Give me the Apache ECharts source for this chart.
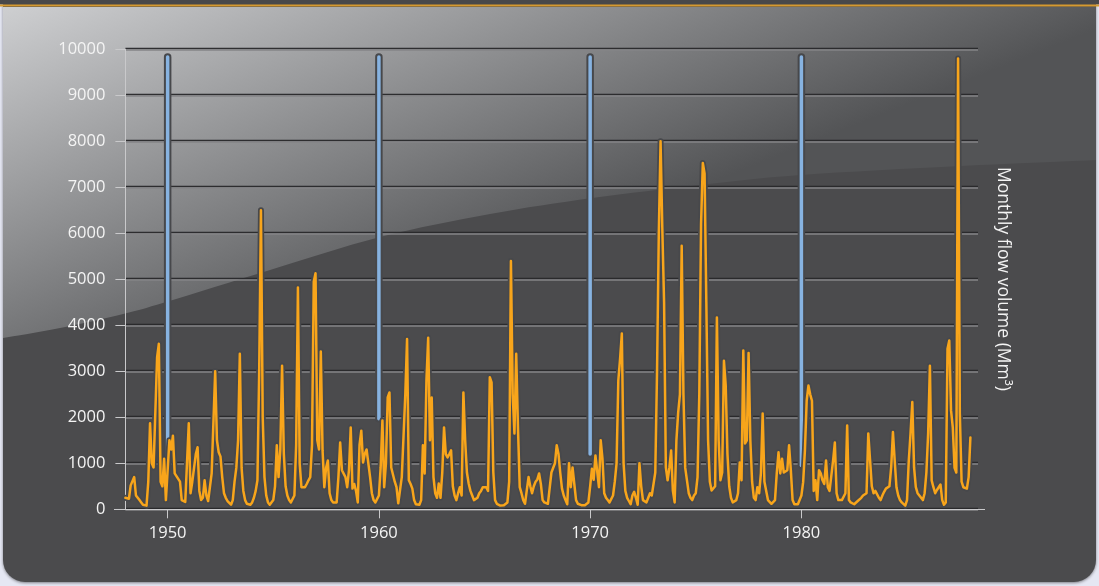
<!DOCTYPE html>
<html><head><meta charset="utf-8">
<script src="https://cdn.jsdelivr.net/npm/echarts@6/dist/echarts.min.js"></script>
<style>html,body{margin:0;padding:0;background:#e5e7f3;overflow:hidden}#c{width:1099px;height:586px}</style>
</head><body><div id="c"></div>
<script>
// ---- data ----
const startYear = 1948;            // first monthly value = Jan 1948
const flow1948_1949 = [
  250, 280, 230, 520, 560, 700, 300, 250, 200, 150, 100, 80,
  80, 600, 1870, 1000, 910, 880, 3300, 3600, 600, 500, 1100, 200];
const flow1950s = [
  200, 1500, 1300, 1600, 780, 720, 680, 600, 200, 180, 160, 150,
  1870, 350, 600, 900, 1200, 1350, 400, 200, 250, 630, 300, 180,
  150, 780, 780, 3000, 1500, 1240, 1150, 700, 350, 250, 180, 150,
  100, 200, 600, 900, 1500, 3380, 900, 400, 200, 120, 90, 100,
  150, 250, 400, 630, 3000, 6500, 2000, 700, 300, 150, 100, 90,
  200, 500, 1390, 700, 1300, 3120, 1200, 500, 300, 200, 150, 120,
  300, 1400, 4820, 1000, 480, 500, 480, 550, 630, 700, 1400, 4950,
  5130, 1500, 1300, 3430, 1280, 480, 900, 1060, 350, 200, 150, 120,
  150, 700, 1450, 850, 850, 700, 480, 850, 1780, 450, 550, 400,
  150, 1400, 1710, 1020, 1210, 1300, 1320, 700, 350, 200, 150, 150];
const flow1960s = [
  300, 910, 1930, 480, 1000, 2430, 2540, 910, 900, 600, 480, 130,
  120, 700, 1600, 2500, 3700, 630, 550, 450, 200, 110, 100, 100,
  200, 1390, 780, 2800, 3730, 1500, 2430, 700, 350, 250, 560, 250,
  800, 1780, 1200, 1130, 1200, 1280, 500, 300, 200, 350, 480, 300,
  2540, 1500, 800, 560, 400, 300, 200, 200, 250, 350, 400, 480,
  480, 480, 400, 2870, 2760, 800, 200, 120, 100, 80, 80, 90,
  100, 150, 600, 5400, 2500, 1650, 3380, 1780, 480, 350, 200, 120,
  100, 700, 500, 350, 500, 600, 650, 780, 550, 200, 150, 120,
  120, 150, 800, 780, 1000, 1390, 1210, 800, 450, 300, 200, 110,
  1000, 480, 910, 550, 200, 120, 100, 90, 90, 90, 100, 150];
const flow1970s = [
  500, 880, 640, 1170, 1200, 480, 1500, 1100, 350, 250, 200, 150,
  150, 300, 600, 1000, 2800, 3270, 3820, 1000, 400, 250, 180, 110,
  300, 380, 250, 100, 1000, 500, 200, 160, 150, 250, 350, 300,
  280, 800, 3000, 6000, 8000, 6100, 4500, 910, 630, 900, 1280, 400,
  150, 1500, 2100, 2500, 5730, 2500, 900, 630, 350, 250, 200, 300,
  350, 700, 2500, 6200, 7530, 7300, 4500, 1500, 600, 410, 400, 500,
  4170, 1500, 630, 800, 3230, 2700, 1200, 500, 250, 150, 110, 200,
  350, 1020, 630, 3450, 1430, 1500, 3400, 1500, 600, 250, 200, 480,
  350, 780, 2080, 600, 590, 200, 200, 120, 90, 200, 780, 1240,
  780, 1100, 800, 780, 850, 1390, 850, 200, 110, 110, 110, 150];
const flow1980s = [
  300, 590, 1280, 2360, 2690, 2500, 2360, 400, 630, 200, 850, 780,
  630, 550, 1060, 480, 400, 380, 1060, 1450, 350, 200, 200, 200,
  200, 350, 1820, 200, 150, 110, 110, 150, 180, 200, 250, 300,
  330, 350, 1650, 1680, 500, 350, 400, 400, 250, 200, 300, 380,
  450, 450, 500, 910, 1680, 1060, 480, 300, 200, 150, 110, 80,
  200, 1060, 1650, 2330, 910, 480, 350, 300, 250, 200, 350, 800,
  1650, 3120, 630, 480, 350, 420, 480, 540, 200, 100, 150, 3490,
  3670, 2150, 1780, 900, 800, 9800, 2080, 600, 480, 450, 450, 700,
  1560];
const markerYears = [1950, 1960, 1970, 1980];
const markerBase  = [1170, 1970, 1200, 950];
const markerTop   = 9830;
const xTickYears  = [1950, 1960, 1970, 1980];
const yMin = 0, yMax = 10000, yStep = 1000;
const xMin = 1948, xMax = 1988.36;
const axisTitle = 'Monthly flow volume (Mm³)';

// ---- build ----
const allFlow = [].concat(flow1948_1949, flow1950s, flow1960s, flow1970s, flow1980s);
const flowData = allFlow.map((v, i) => [startYear + i / 12, v]);

const OUTLINE = '#47484b';
const series = [];
markerYears.forEach((yr, i) => {
  const d = [[yr, markerBase[i]], [yr, markerTop]];
  series.push({type:'line', data:d, symbol:'none', silent:true, animation:false, z:2,
    lineStyle:{color:OUTLINE, width:7.5, cap:'round'}});
  series.push({type:'line', data:d, symbol:'none', silent:true, animation:false, z:3,
    lineStyle:{color:'#87b3e1', width:3.5, cap:'round'}});
});
series.push({type:'line', data:flowData, symbol:'none', silent:true, animation:false, z:4,
  lineStyle:{color:OUTLINE, width:6, join:'round', cap:'round'}});
series.push({type:'line', data:flowData, symbol:'none', silent:true, animation:false, z:5,
  lineStyle:{color:'#f8a51b', width:2.5, join:'round', cap:'round'}});

// decorative gloss shape (background only): sampled monotone curve through edge points
function glossPoints() {
  const edge = [[1096,160],[960,166],[800,175],[700,185],[592,198],[490,214],[380,237],[270,270],[166,302],[123,314],[60,328],[3,338]];
  const pts = [[3,7],[1096,7]];
  for (let i = 0; i < edge.length - 1; i++) {
    const a = edge[i], b = edge[i+1];
    const p = edge[i-1] || a, q = edge[i+2] || b;
    for (let k = 0; k < 8; k++) {
      const t = k/8, t2 = t*t, t3 = t2*t;
      const f = (c) => 0.5*((2*a[c]) + (-p[c]+b[c])*t + (2*p[c]-5*a[c]+4*b[c]-q[c])*t2 + (-p[c]+3*a[c]-3*b[c]+q[c])*t3);
      pts.push([f(0), f(1)]);
    }
  }
  pts.push(edge[edge.length-1]);
  return pts;
}

const chart = echarts.init(document.getElementById('c'), null, {renderer:'canvas'});
const FF = '"Open Sans", "Noto Sans", sans-serif';
const labelFont = {color:'#f4f4f4', fontSize:16.5, fontFamily:FF};
chart.setOption({
  backgroundColor:'transparent',
  animation:false,
  grid:{left:125.4, right:121, top:49.3, bottom:76.7, containLabel:false},
  xAxis:{type:'value', min:xMin, max:xMax,
    axisLine:{show:false}, splitLine:{show:false},
    axisTick:{show:true, customValues:xTickYears, length:9, lineStyle:{color:'#c9c9cb', width:1}},
    axisLabel:Object.assign({customValues:xTickYears, margin:15, formatter:v=>String(v)}, labelFont)},
  yAxis:{type:'value', min:yMin, max:yMax, interval:yStep,
    axisLine:{show:true, lineStyle:{color:'#c9c9cb', width:1}},
    axisTick:{show:true, length:10, lineStyle:{color:'#c9c9cb', width:1}},
    axisLabel:Object.assign({margin:20, formatter:v=>String(v)}, labelFont),
    splitLine:{show:true, lineStyle:{color:'#858587', width:1.5, shadowColor:'rgba(40,40,42,0.95)', shadowOffsetY:-1.5, shadowBlur:0}}},
  graphic:[
    {type:'rect', z:-100, silent:true, shape:{x:3, y:0, width:1093, height:582, r:[0,0,22,22]},
      style:{fill:'#4b4b4d', shadowBlur:3, shadowColor:'rgba(0,0,0,0.45)', shadowOffsetY:1}},
    {type:'polygon', z:-99, silent:true,
      shape:{points:glossPoints()},
      style:{fill:new echarts.graphic.LinearGradient(0,0,160,402,[{offset:0,color:'#d0d1d3'},{offset:1,color:'#535456'}], true)}},
    {type:'rect', z:-98, silent:true, shape:{x:0, y:0, width:1099, height:4.5}, style:{fill:'#48484a'}},
    {type:'rect', z:-97, silent:true, shape:{x:0, y:4.5, width:1099, height:2}, style:{fill:'#d69a30'}},
    {type:'line', z:6, silent:true, shape:{x1:114, y1:509.5, x2:985, y2:509.5}, style:{stroke:'#c9c9cb', lineWidth:1}},
    {type:'text', z:6, silent:true, x:1003, y:279, rotation:-Math.PI/2,
      style:{text:axisTitle, fill:'#f4f4f4', font:'17.5px ' + FF,
        align:'center', verticalAlign:'middle', textAlign:'center', textVerticalAlign:'middle'}}
  ],
  series:series
});
</script></body></html>
